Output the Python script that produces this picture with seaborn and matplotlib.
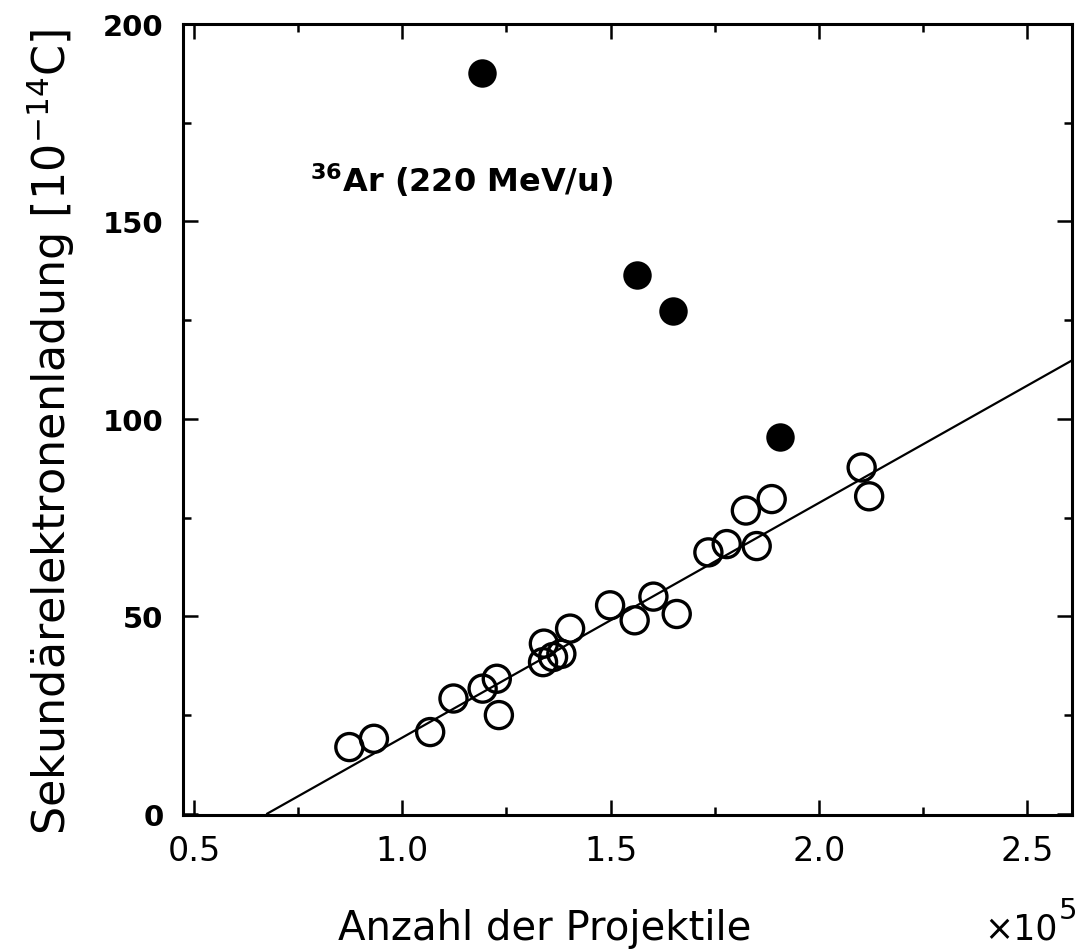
import numpy as np
import pandas as pd
import matplotlib
matplotlib.use("Agg")
import matplotlib.pyplot as plt
import seaborn as sns
from matplotlib.ticker import MultipleLocator

# --- data (x in units of 1e5 projectiles, y in 1e-14 C) ---
open_x = [0.873, 0.932, 1.067, 1.123, 1.193, 1.227, 1.232,
          1.340, 1.338, 1.362, 1.382, 1.403,
          1.499, 1.558, 1.603, 1.659,
          1.735, 1.779, 1.851, 1.825, 1.887,
          2.103, 2.121]
open_y = [16.9, 19.0, 20.7, 29.2, 31.7, 34.2, 25.0,
          43.1, 38.4, 39.7, 40.5, 46.9,
          52.8, 49.0, 55.0, 50.6,
          66.2, 68.3, 67.8, 76.8, 79.7,
          87.7, 80.4]

filled_x = [1.191, 1.563, 1.651, 1.907]
filled_y = [187.6, 136.4, 127.3, 95.5]

# straight line through the open points: y = slope * x + intercept
fit_slope = 59.4
fit_intercept = -40.1

x_ticks = [0.5, 1.0, 1.5, 2.0, 2.5]
x_ticklabels = ["0.5", "1.0", "1.5", "2.0", "2.5"]
y_ticks = [0, 50, 100, 150, 200]

XLIM = (0.4736, 2.608)
YLIM = (-0.3, 200)

sns.set_theme(style="ticks")
plt.rcParams["font.family"] = ["DejaVu Sans"]
plt.rcParams["text.color"] = "black"
plt.rcParams["xtick.color"] = "black"
plt.rcParams["ytick.color"] = "black"
plt.rcParams["axes.labelcolor"] = "black"

df_open = pd.DataFrame({"x": open_x, "y": open_y})
df_filled = pd.DataFrame({"x": filled_x, "y": filled_y})
x0 = -fit_intercept / fit_slope
df_fit = pd.DataFrame({"x": [x0, XLIM[1]]})
df_fit["y"] = fit_slope * df_fit["x"] + fit_intercept

fig = plt.figure(figsize=(10.89, 9.53), dpi=100)
ax = fig.add_axes([183 / 1089, 1 - 816 / 953, (1072 - 183) / 1089, (816 - 25) / 953])

sns.lineplot(data=df_fit, x="x", y="y", ax=ax, color="black", lw=1.6)
sns.scatterplot(data=df_open, x="x", y="y", ax=ax, s=380, marker="o",
                facecolor="none", edgecolor="black", linewidth=2.4, zorder=3)
sns.scatterplot(data=df_filled, x="x", y="y", ax=ax, s=420, marker="o",
                color="black", edgecolor="black", linewidth=0, zorder=3)

ax.set_xlim(*XLIM)
ax.set_ylim(*YLIM)
ax.set_xticks(x_ticks)
ax.set_xticklabels(x_ticklabels)
ax.set_yticks(y_ticks)
ax.xaxis.set_minor_locator(MultipleLocator(0.25))
ax.yaxis.set_minor_locator(MultipleLocator(25))

for side in ["left", "right", "top", "bottom"]:
    ax.spines[side].set_visible(True)
    ax.spines[side].set_linewidth(2.2)
    ax.spines[side].set_color("black")

ax.tick_params(which="both", direction="in", top=True, right=True, color="black")
ax.tick_params(which="major", length=11, width=1.8)
ax.tick_params(which="minor", length=6, width=1.8)
ax.tick_params(axis="x", which="major", labelsize=24, pad=14, labelcolor="black")
ax.tick_params(axis="y", which="major", labelsize=21, pad=14, labelcolor="black")
for lab in ax.get_yticklabels():
    lab.set_fontweight("bold")

ax.set_xlabel("")
ax.set_ylabel("")

fig.text(0.50, 0.014, "Anzahl der Projektile", ha="center", va="baseline", fontsize=29)
fig.text(984 / 1089, 0.014, "×10", ha="left", va="baseline", fontsize=25)
fig.text(1059 / 1089, 0.036, "5", ha="left", va="baseline", fontsize=21)
fig.text(0.046, 1 - 432 / 953, r"Sekundärelektronenladung [10$^{-14}$C]",
         rotation=90, ha="center", va="center", fontsize=32)
ax.text(0.778, 157.8, r"$^{\mathbf{36}}$Ar (220 MeV/u)", ha="left", va="baseline",
        fontsize=23, fontweight="bold")

fig.savefig("out.png", dpi=100)
